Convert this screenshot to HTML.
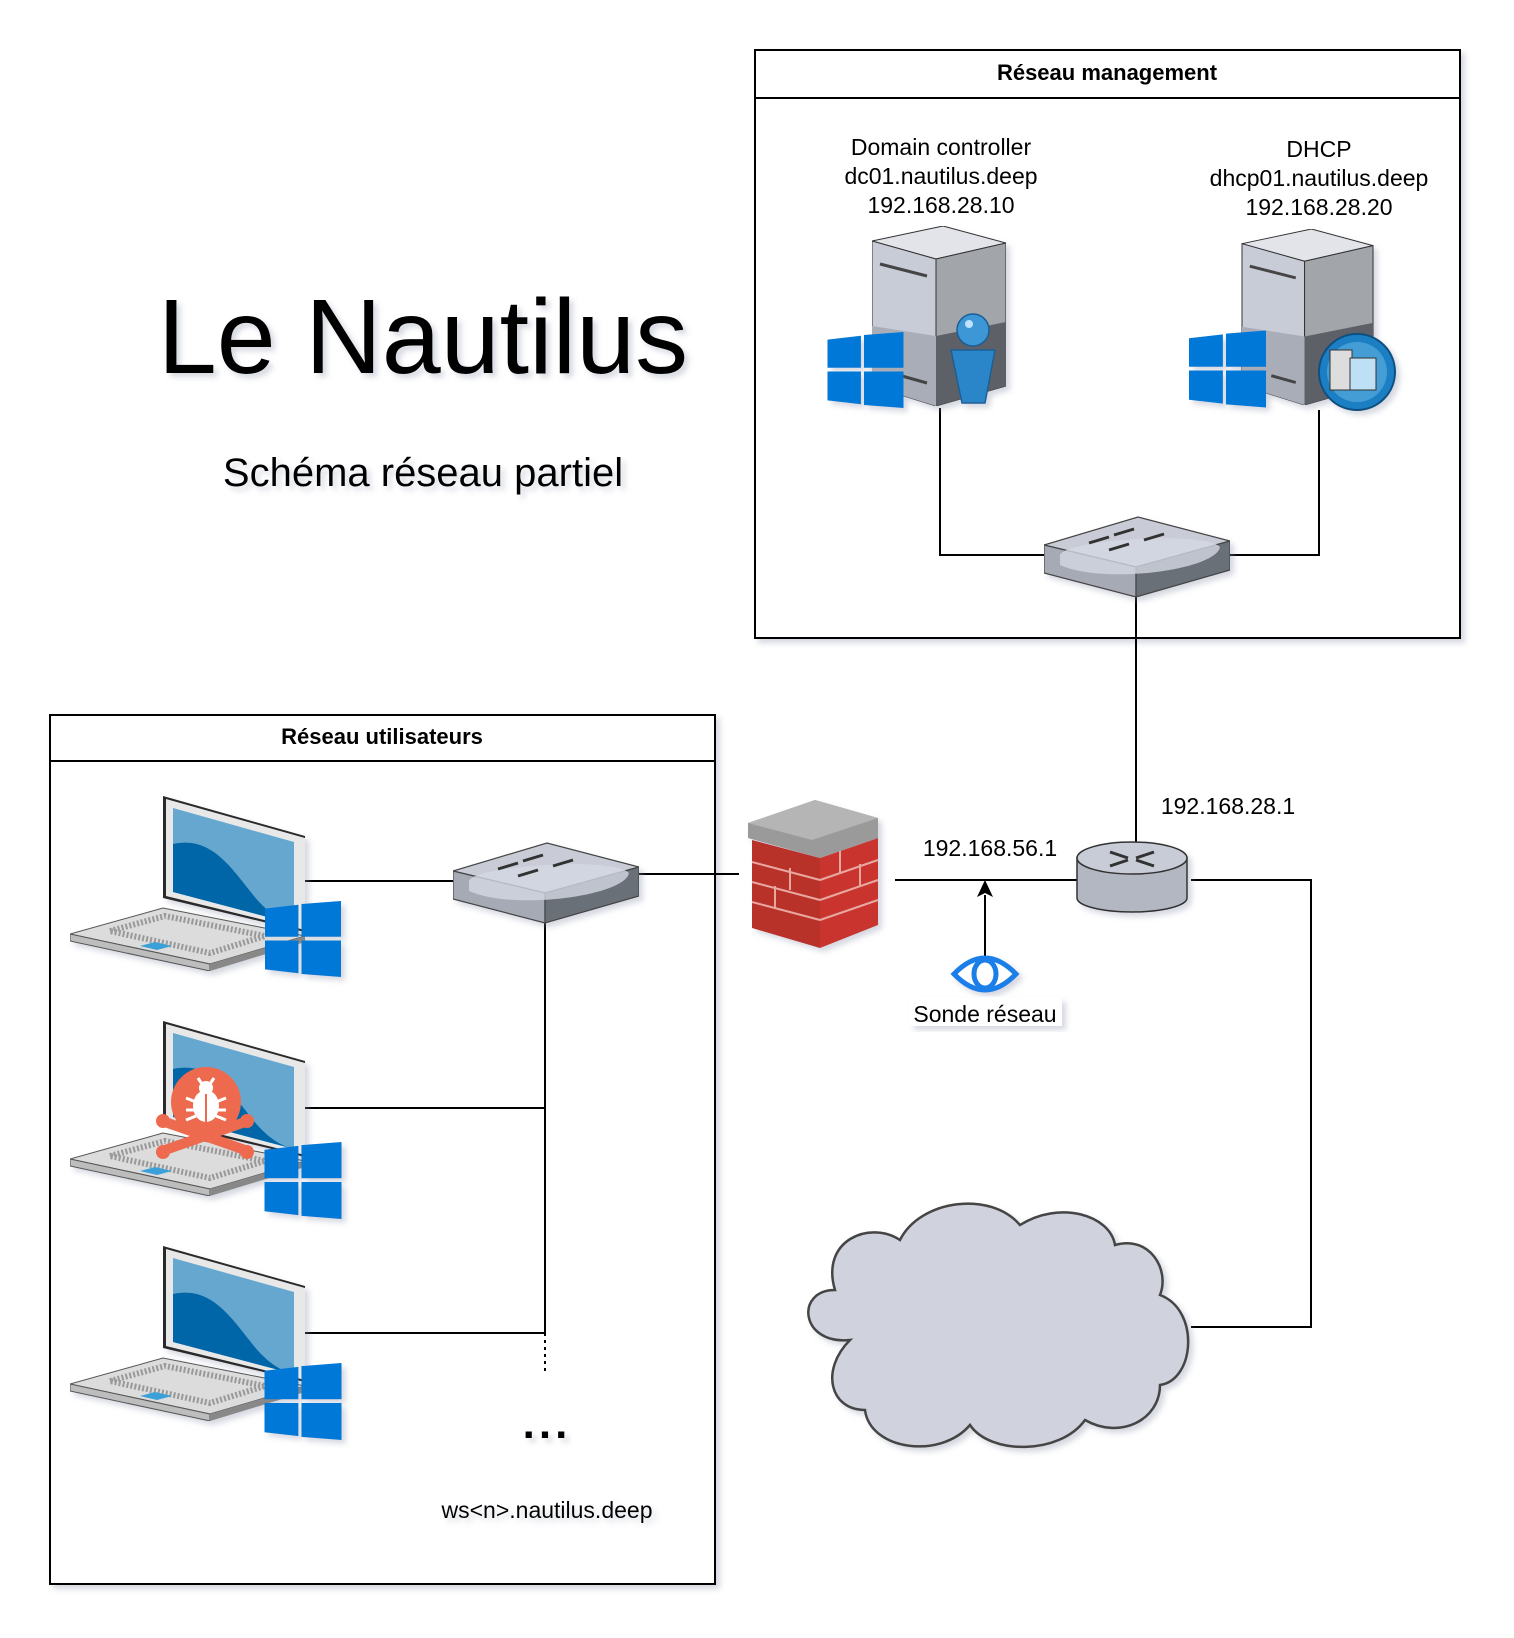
<!DOCTYPE html>
<html><head><meta charset="utf-8"><style>
html,body{margin:0;padding:0;background:#fff}
svg{display:block}
text{font-family:"Liberation Sans",Arial,sans-serif;fill:#000}
</style></head><body>
<svg width="1514" height="1638" viewBox="0 0 1514 1638" xmlns="http://www.w3.org/2000/svg">
<defs>
<filter id="sh" x="-10%" y="-10%" width="130%" height="130%">
<feDropShadow dx="4" dy="4" stdDeviation="3" flood-color="#8890a8" flood-opacity="0.35"/>
</filter>
<symbol id="win" viewBox="0 0 100 100">
<polygon points="0,10 44,5 44,47 0,47" fill="#0078d7"/>
<polygon points="48,4 100,0 100,47 48,47" fill="#0078d7"/>
<polygon points="0,52 44,52 44,95 0,90" fill="#0078d7"/>
<polygon points="48,52 100,52 100,100 48,96" fill="#0078d7"/>
</symbol>
<symbol id="laptop" viewBox="0 0 240 175">
<polygon points="93,0 235,40 235,136 93,102" fill="#2b2b2b"/>
<polygon points="96,3 235,42 235,134 96,100" fill="#e8e8e8"/>
<polygon points="103,12 224,46 224,128 103,96" fill="#66a7cf"/>
<path d="M103,48 C140,40 160,70 180,95 C195,115 210,125 224,128 L103,96 Z" fill="#0466a7"/>
<polygon points="0,138 93,112 235,140 140,168" fill="#dcdcdc" stroke="#555" stroke-width="1"/>
<polygon points="0,138 140,168 140,175 0,145" fill="#bdbdbd" stroke="#555" stroke-width="1"/>
<polygon points="140,168 235,140 235,146 140,175" fill="#888"/>
<polygon points="40,135 95,120 195,140 140,157" fill="none" stroke="#999" stroke-width="6" stroke-dasharray="2 2"/>
<polygon points="70,150 85,146 102,150 87,154" fill="#3aa0d8"/>
</symbol>
<symbol id="switch" viewBox="0 0 186 82">
<polygon points="0,30 94,2 186,26 92,52" fill="#c9ccd6" stroke="#444" stroke-width="1.2"/>
<polygon points="0,30 92,52 92,82 0,58" fill="#a6aab4" stroke="#444" stroke-width="1.2"/>
<polygon points="92,52 186,26 186,55 92,82" fill="#6b6f77" stroke="#444" stroke-width="1.2"/>
<path d="M16,40 C20,25 160,15 176,32 C172,55 60,70 16,50 Z" fill="#d5d8e2" opacity="0.8"/>
<path d="M45,28 l20,-6 M70,20 l20,-6 M65,35 l20,-6 M100,25 l20,-6" stroke="#333" stroke-width="3"/>
</symbol>
<symbol id="server" viewBox="0 0 134 180">
<polygon points="0,15 71,0 134,17 64,33" fill="#e2e4ea" stroke="#333" stroke-width="1"/>
<polygon points="0,15 64,33 64,180 0,160" fill="#c8ccd6" stroke="#333" stroke-width="1"/>
<polygon points="64,33 134,17 134,160 64,180" fill="#a2a5a9" stroke="#333" stroke-width="1"/>
<polygon points="64,110 134,96 134,160 64,180" fill="#5d6166"/>
<polygon points="0,100 64,110 64,180 0,160" fill="#a9adb8"/>
<path d="M8,38 L55,50" stroke="#444" stroke-width="3"/>
<path d="M30,150 L55,157" stroke="#444" stroke-width="3"/>
</symbol>
</defs>

<g filter="url(#sh)">
<text x="423" y="373" font-size="106" text-anchor="middle">Le Nautilus</text>
<text x="423" y="486" font-size="40" text-anchor="middle">Schéma réseau partiel</text>
</g>

<g filter="url(#sh)">
<rect x="755" y="50" width="705" height="588" fill="#fff" stroke="#000" stroke-width="2"/>
<line x1="755" y1="98" x2="1460" y2="98" stroke="#000" stroke-width="2"/>
</g>
<text x="1107" y="80" font-size="22" font-weight="bold" text-anchor="middle">Réseau management</text>

<g filter="url(#sh)">
<rect x="50" y="715" width="665" height="869" fill="#fff" stroke="#000" stroke-width="2"/>
<line x1="50" y1="761" x2="715" y2="761" stroke="#000" stroke-width="2"/>
</g>
<text x="382" y="744" font-size="22" font-weight="bold" text-anchor="middle">Réseau utilisateurs</text>

<g stroke="#000" stroke-width="2" fill="none">
<polyline points="940,408 940,555 1046,555"/>
<polyline points="1319,410 1319,555 1227,555"/>
<line x1="1136" y1="597" x2="1136" y2="846"/>
<line x1="895" y1="880" x2="1081" y2="880"/>
<polyline points="1191,880 1311,880 1311,1327 1191,1327"/>
<line x1="639" y1="874" x2="739" y2="874"/>
<line x1="305" y1="881" x2="453" y2="881"/>
<line x1="545" y1="923" x2="545" y2="1333"/>
<line x1="305" y1="1108" x2="545" y2="1108"/>
<line x1="305" y1="1333" x2="545" y2="1333"/>
<line x1="545" y1="1333" x2="545" y2="1372" stroke-dasharray="3 4"/>
<line x1="985" y1="958" x2="985" y2="895"/>
</g>
<polygon points="985,880 977,897 985,893 993,897" fill="#000"/>

<g filter="url(#sh)">
<use href="#server" x="872" y="226" width="134" height="180"/>
<use href="#win" x="827" y="332" width="77" height="76"/>
<g>
<path d="M951,350 L995,350 L985,403 L962,403 Z" fill="#2c86c8" stroke="#1a5f96" stroke-width="1.5"/>
<circle cx="973" cy="330" r="16" fill="#3c97d6" stroke="#1a5f96" stroke-width="1.5"/>
<circle cx="969" cy="324" r="4" fill="#bfe3ff"/>
</g>
<use href="#server" x="1241" y="229" width="133" height="176"/>
<use href="#win" x="1189" y="330" width="77" height="78"/>
<circle cx="1357" cy="372" r="38" fill="#1f7fc4" stroke="#0d4f80" stroke-width="2"/>
<circle cx="1357" cy="372" r="30" fill="#5eb0e3" opacity="0.6"/>
<rect x="1330" y="350" width="22" height="40" fill="#ddd" stroke="#333"/>
<rect x="1350" y="358" width="26" height="32" fill="#bde0f5" stroke="#333"/>
</g>
<text x="941" y="155" font-size="23" text-anchor="middle">Domain controller</text>
<text x="941" y="184" font-size="23" text-anchor="middle">dc01.nautilus.deep</text>
<text x="941" y="213" font-size="23" text-anchor="middle">192.168.28.10</text>
<text x="1319" y="157" font-size="23" text-anchor="middle">DHCP</text>
<text x="1319" y="186" font-size="23" text-anchor="middle">dhcp01.nautilus.deep</text>
<text x="1319" y="215" font-size="23" text-anchor="middle">192.168.28.20</text>

<use href="#switch" x="1044" y="515" width="186" height="82" filter="url(#sh)"/>
<use href="#switch" x="453" y="840" width="186" height="84" filter="url(#sh)"/>

<g filter="url(#sh)">
<path d="M1077,858 L1077,898 A55,14 0 0 0 1187,898 L1187,858 Z" fill="#b3b7c2" stroke="#333" stroke-width="1.5"/>
<ellipse cx="1132" cy="858" rx="55" ry="16" fill="#c8ccd6" stroke="#333" stroke-width="1.5"/>
<path d="M1110,852 l18,6 M1154,852 l-18,6 M1110,866 l18,-6 M1154,866 l-18,-6" stroke="#333" stroke-width="3"/>
</g>
<text x="1228" y="814" font-size="23" text-anchor="middle">192.168.28.1</text>
<text x="990" y="856" font-size="23" text-anchor="middle">192.168.56.1</text>

<g filter="url(#sh)">
<polygon points="752,840 820,858 820,948 752,928" fill="#b8302b"/>
<polygon points="820,858 878,838 878,925 820,948" fill="#c9342e"/>
<polygon points="748,823 815,800 878,818 878,838 820,858 748,838" fill="#9a9a9a"/>
<polygon points="748,823 815,800 878,818 812,840" fill="#b5b5b5"/>
<g stroke="#e8a8a0" stroke-width="2">
<line x1="752" y1="862" x2="820" y2="880"/><line x1="820" y1="880" x2="878" y2="860"/>
<line x1="752" y1="882" x2="820" y2="900"/><line x1="820" y1="900" x2="878" y2="880"/>
<line x1="752" y1="902" x2="820" y2="920"/><line x1="820" y1="920" x2="878" y2="900"/>
<line x1="840" y1="851" x2="840" y2="873"/><line x1="860" y1="864" x2="860" y2="886"/>
<line x1="790" y1="868" x2="790" y2="890"/><line x1="775" y1="886" x2="775" y2="908"/>
</g>
</g>

<g filter="url(#sh)">
<path d="M954,974 Q985,942 1016,974 Q985,1006 954,974 Z" fill="#fff" stroke="#1a7ee8" stroke-width="5"/>
<ellipse cx="985" cy="974" rx="11" ry="14" fill="#fff" stroke="#1a7ee8" stroke-width="5"/>
</g>
<rect x="910" y="998" width="152" height="28" fill="#fff" filter="url(#sh)"/>
<text x="985" y="1022" font-size="23" text-anchor="middle">Sonde réseau</text>

<g filter="url(#sh)">
<use href="#laptop" x="70" y="796" width="240" height="175"/>
<use href="#win" x="264" y="901" width="78" height="76"/>
<use href="#laptop" x="70" y="1021" width="240" height="175"/>
<use href="#win" x="264" y="1142" width="78" height="77"/>
<use href="#laptop" x="70" y="1246" width="240" height="175"/>
<use href="#win" x="264" y="1363" width="78" height="77"/>
</g>
<g fill="#ee6a4f">
<path d="M165,1122 L245,1150 M165,1150 L245,1122" stroke="#ee6a4f" stroke-width="10"/>
<circle cx="163" cy="1121" r="7"/><circle cx="163" cy="1152" r="7"/><circle cx="247" cy="1121" r="7"/><circle cx="247" cy="1152" r="7"/>
<circle cx="206" cy="1102" r="35"/>
</g>
<ellipse cx="206" cy="1106" rx="13" ry="16" fill="#fff"/>
<circle cx="206" cy="1088" r="7" fill="#fff"/>
<path d="M186,1098 l10,4 M186,1110 l10,0 M186,1120 l10,-4 M226,1098 l-10,4 M226,1110 l-10,0 M226,1120 l-10,-4 M198,1078 l4,6 M214,1078 l-4,6" stroke="#fff" stroke-width="3"/>
<line x1="206" y1="1094" x2="206" y2="1122" stroke="#ee6a4f" stroke-width="2"/>

<text x="547" y="1438" font-size="44" font-weight="bold" letter-spacing="4" text-anchor="middle" filter="url(#sh)">...</text>
<text x="547" y="1518" font-size="23" text-anchor="middle" filter="url(#sh)">ws&lt;n&gt;.nautilus.deep</text>

<path filter="url(#sh)" d="M850,1340 C800,1345 795,1290 835,1290 C820,1240 870,1220 900,1240 C920,1200 990,1190 1020,1225 C1060,1200 1110,1215 1115,1245 C1150,1235 1170,1270 1160,1295 C1200,1310 1195,1380 1160,1385 C1160,1420 1120,1440 1085,1420 C1060,1455 990,1455 970,1425 C940,1460 870,1450 865,1410 C830,1410 820,1370 850,1340 Z" fill="#d0d3dd" stroke="#444" stroke-width="2.5"/>
</svg>
</body></html>
